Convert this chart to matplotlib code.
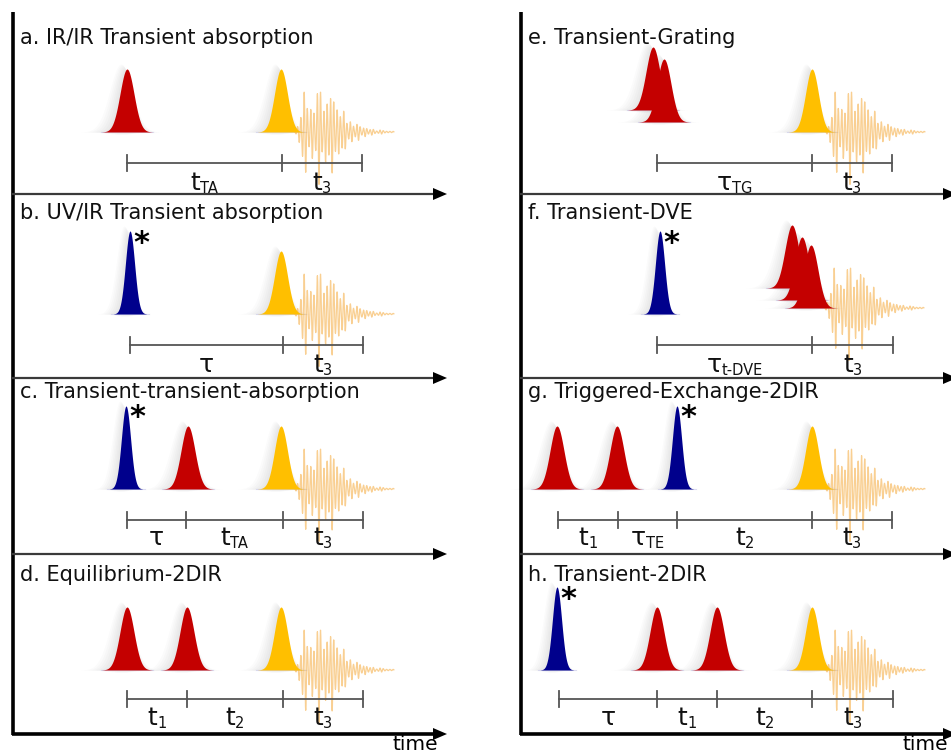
import numpy as np
import matplotlib
matplotlib.use("Agg")
import matplotlib.pyplot as plt
from matplotlib.patches import Polygon

plt.rcParams["font.family"] = ["DejaVu Sans"]
plt.rcParams["mathtext.fontset"] = "dejavusans"

# ---------------------------------------------------------------- data
panel_titles = [
    "a. IR/IR Transient absorption",
    "b. UV/IR Transient absorption",
    "c. Transient-transient-absorption",
    "d. Equilibrium-2DIR",
    "e. Transient-Grating",
    "f. Transient-DVE",
    "g. Triggered-Exchange-2DIR",
    "h. Transient-2DIR",
]
panel_column = [0, 0, 0, 0, 1, 1, 1, 1]
panel_row = [0, 1, 2, 3, 0, 1, 2, 3]

# pulses: (kind, arrival time, lift above the row baseline)
pulses_a = [("ir", 127, 0), ("probe", 281, 0)]
pulses_b = [("uv", 130, 0), ("probe", 281, 0)]
pulses_c = [("uv", 126, 0), ("ir", 188, 0), ("probe", 281, 0)]
pulses_d = [("ir", 127, 0), ("ir", 187, 0), ("probe", 281, 0)]
pulses_e = [("ir", 123, 22), ("ir", 134, 10), ("probe", 282, 0)]
pulses_f = [("uv", 130, 0), ("ir", 262, 26), ("ir", 272, 14), ("ir", 281, 6)]
pulses_g = [("ir", 27, 0), ("ir", 87, 0), ("uv", 147, 0), ("probe", 282, 0)]
pulses_h = [("uv", 27, 0), ("ir", 127, 0), ("ir", 187, 0), ("probe", 282, 0)]
panel_pulses = [pulses_a, pulses_b, pulses_c, pulses_d,
                pulses_e, pulses_f, pulses_g, pulses_h]

# emitted signal: (time of the last pulse, its lift)
signal_origin = [(281, 0), (281, 0), (281, 0), (281, 0),
                 (282, 0), (281, 6), (282, 0), (282, 0)]
# beating envelope of the emitted signal: lobe delay after the pulse and amplitude
signal_lobe_delay = [19, 24, 31, 38, 45, 51, 57, 63, 70, 77, 84, 91, 100]
signal_lobe_amp = [10, 42, 26, 52, 30, 40, 22, 20, 10, 8, 4, 2.5, 1.5]

# delay brackets: tick times and interval labels
bracket_a = [127, 282, 362]
bracket_b = [130, 283, 363]
bracket_c = [127, 186, 283, 363]
bracket_d = [127, 187, 283, 363]
bracket_e = [127, 282, 362]
bracket_f = [127, 282, 363]
bracket_g = [28, 88, 147, 282, 362]
bracket_h = [29, 127, 187, 282, 363]
panel_brackets = [bracket_a, bracket_b, bracket_c, bracket_d,
                  bracket_e, bracket_f, bracket_g, bracket_h]

labels_a = [("t", "TA"), ("t", "3")]
labels_b = [("τ", ""), ("t", "3")]
labels_c = [("τ", ""), ("t", "TA"), ("t", "3")]
labels_d = [("t", "1"), ("t", "2"), ("t", "3")]
labels_e = [("τ", "TG"), ("t", "3")]
labels_f = [("τ", "t-DVE"), ("t", "3")]
labels_g = [("t", "1"), ("τ", "TE"), ("t", "2"), ("t", "3")]
labels_h = [("τ", ""), ("t", "1"), ("t", "2"), ("t", "3")]
panel_labels = [labels_a, labels_b, labels_c, labels_d,
                labels_e, labels_f, labels_g, labels_h]

# ---------------------------------------------------------------- layout
W, H = 951, 755
column_offset = [0, 530]
column_axis_x = [13, 521]
column_arrow_end = [447, 957]
row_arrow_y = [194, 378, 554, 734]
row_base_y = [132, 314, 489, 670]
row_bracket_y = [163, 345, 520, 699]
row_label_y = [183, 365, 538, 718]
row_title_y = [38, 213, 392, 575]

pulse_style = {
    "ir": dict(color="#c40000", sigma=7.0, height=63),
    "uv": dict(color="#00008c", sigma=4.6, height=83),
    "probe": dict(color="#ffbf00", sigma=6.5, height=63),
}

fig = plt.figure(figsize=(W / 100, H / 100), dpi=100)
ax = fig.add_axes([0, 0, 1, 1])
ax.set_xlim(0, W)
ax.set_ylim(H, 0)
ax.axis("off")


def draw_pulse(x0, base, kind):
    st = pulse_style[kind]
    s, h = st["sigma"], st["height"]
    x = np.linspace(-3.6 * s, 3.6 * s, 200)
    g = np.exp(-x ** 2 / (2 * s ** 2))
    y = h * g
    # soft shadow on the left of the pulse
    for k in range(6):
        grow = 1 + 0.12 * k
        xs = x0 - 2.0 - 0.8 * k + x * grow
        ys = (h + 1.0 * k) * g
        ax.fill_between(xs, base + 0.5 * k * g, base - ys, color="#5a5a6a",
                        alpha=0.024, lw=0, zorder=2)
    ax.plot([x0 - 3.2 * s - 4, x0 + 3.2 * s + 4], [base, base],
            color="#c8c8ea", lw=0.8, alpha=0.6, zorder=2.5)
    ax.fill_between(x0 + x, base, base - y, color=st["color"], lw=0, zorder=3)


def draw_signal(x0, base):
    t = np.arange(13, 113, 0.1)
    env = np.zeros_like(t)
    for d, a in zip(signal_lobe_delay, signal_lobe_amp):
        env += a * np.exp(-(t - d) ** 2 / (2 * 2.0 ** 2))
    env = np.minimum(env, 52) + 0.6
    osc = env * np.cos(2 * np.pi * t / 3.3)
    ax.plot(x0 + t, base - osc, color="#f5b04a", lw=0.9, alpha=0.6,
            zorder=2.6)


def draw_arrow(x1, x2, y, lw, color):
    ax.plot([x1, x2 - 10], [y, y], color=color, lw=lw, solid_capstyle="butt",
            zorder=4)
    ax.add_patch(Polygon([[x2 - 14, y - 6], [x2, y], [x2 - 14, y + 6]],
                         closed=True, color="black", lw=0, zorder=4))


def delay_label(x, y, sym, sub):
    main = ax.text(x, y, sym, fontsize=18, ha="left", va="baseline",
                   color="#111111", zorder=5)
    subt = ax.text(x, y + 3, sub, fontsize=10.5, ha="left",
                   va="baseline", color="#111111", zorder=5)
    return main, subt


# time axes of both columns
for c in range(2):
    ax.plot([column_axis_x[c], column_axis_x[c]], [12, row_arrow_y[3] + 1.2],
            color="black", lw=2.6, zorder=4, solid_capstyle="butt")
    for r in range(4):
        last = r == 3
        draw_arrow(column_axis_x[c] - 1, column_arrow_end[c], row_arrow_y[r],
                   2.6 if last else 1.6, "black" if last else "#3a3a3a")
    ax.text(column_arrow_end[c] - 9, 744, "time", fontsize=14.5,
            ha="right", va="center", color="black")

fig.canvas.draw()
renderer = fig.canvas.get_renderer()

for i in range(8):
    c, r = panel_column[i], panel_row[i]
    off = column_offset[c]
    base = row_base_y[r]
    ax.text(column_axis_x[c] + 7, row_title_y[r], panel_titles[i],
            fontsize=15, ha="left", va="center", color="#111111")
    for kind, t, lift in panel_pulses[i]:
        draw_pulse(off + t, base - lift, kind)
        if kind == "uv":
            h = pulse_style["uv"]["height"]
            ax.text(off + t + 11, base - lift - h + 12, "*", fontsize=22,
                    fontweight="bold", ha="center", va="center",
                    color="black", zorder=5)
    st, lift = signal_origin[i]
    draw_signal(off + st, base - lift)

    ticks = panel_brackets[i]
    yb = row_bracket_y[r]
    ax.plot([off + ticks[0], off + ticks[-1]], [yb, yb], color="#555555",
            lw=1.3, zorder=4)
    for tk in ticks:
        ax.plot([off + tk, off + tk], [yb - 8, yb + 8], color="#555555",
                lw=1.3, zorder=4)
    for (sym, sub), a, b in zip(panel_labels[i], ticks[:-1], ticks[1:]):
        ybase = row_label_y[r] + 7
        main, subt = delay_label(0, ybase, sym, sub)
        w1 = main.get_window_extent(renderer).width
        w2 = subt.get_window_extent(renderer).width if sub else 0
        total = w1 + w2
        xc = off + (a + b) / 2
        main.set_x(xc - total / 2)
        subt.set_x(xc - total / 2 + w1)

fig.savefig("out.png", dpi=100)
